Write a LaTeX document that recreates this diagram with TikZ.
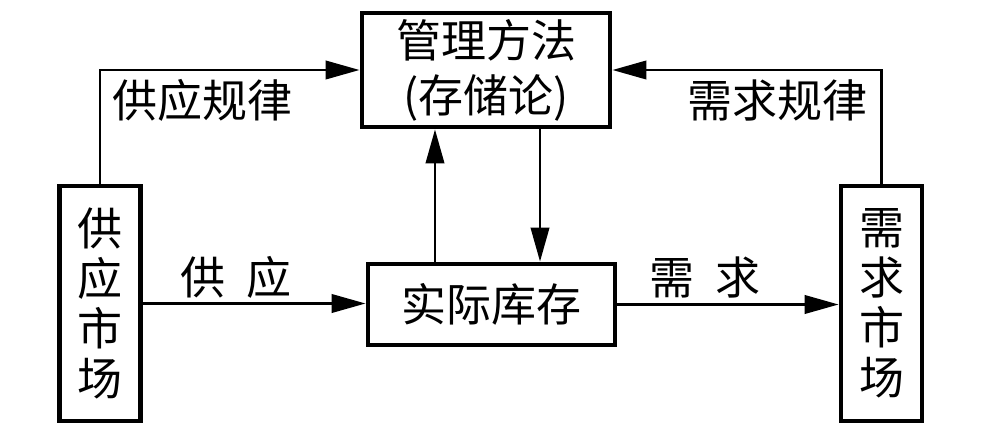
\documentclass[tikz,border=0pt]{standalone}
\usepackage{fontspec}
\setmainfont{Noto Sans CJK SC}
\usetikzlibrary{arrows.meta}

\begin{document}
\begin{tikzpicture}[x=0.025cm,y=-0.025cm]
		\tikzset{
			box/.style={draw, line width=3.4pt, inner sep=0pt, align=center,
				font=\fontsize{32}{39}\selectfont},
			side/.style={box, minimum width=2.025cm, minimum height=5.875cm,
				font=\fontsize{32}{35.6}\selectfont},
			arr/.style={line width=1.9pt, -{Triangle[length=0.85cm,width=0.46cm]}},
			lab/.style={inner sep=0pt, font=\fontsize{32}{39}\selectfont}
		}
		\useasboundingbox (0,0) rectangle (984,439);
		\def\gap{\hspace{0.45em}}
		% boxes
		\node[box, minimum width=6.2cm, minimum height=2.85cm] (mgmt) at (486,70) {管理方法\\(存储论)};
		\node[box, minimum width=6.175cm, minimum height=2.025cm] (stock) at (491.5,304.5) {实际库存};
		\node[side] (sup) at (100,303.5) {供\\应\\市\\场};
		\node[side] (dem) at (881.5,303.5) {需\\求\\市\\场};
		% labels
		\node[lab] (suplaw) at (202,100) {供应规律};
		\node[lab] (demlaw) at (777,100) {需求规律};
		\node[lab] (supl) at (236,277) {供\gap 应};
		\node[lab] (deml) at (705,277) {需\gap 求};
		% connectors
		\draw[arr] (sup.north) |- (mgmt.west);
		\draw[arr] (dem.north) |- (mgmt.east);
		\draw[arr] (sup.east) -- (sup.east -| stock.west);
		\draw[arr] (stock.east) -- (stock.east -| dem.west);
		\draw[arr] ([xshift=-1.275cm]mgmt.south |- stock.north) -- ([xshift=-1.275cm]mgmt.south);
		\draw[arr] ([xshift=1.35cm]mgmt.south) -- ([xshift=1.35cm]mgmt.south |- stock.north);
	\end{tikzpicture}
\end{document}
